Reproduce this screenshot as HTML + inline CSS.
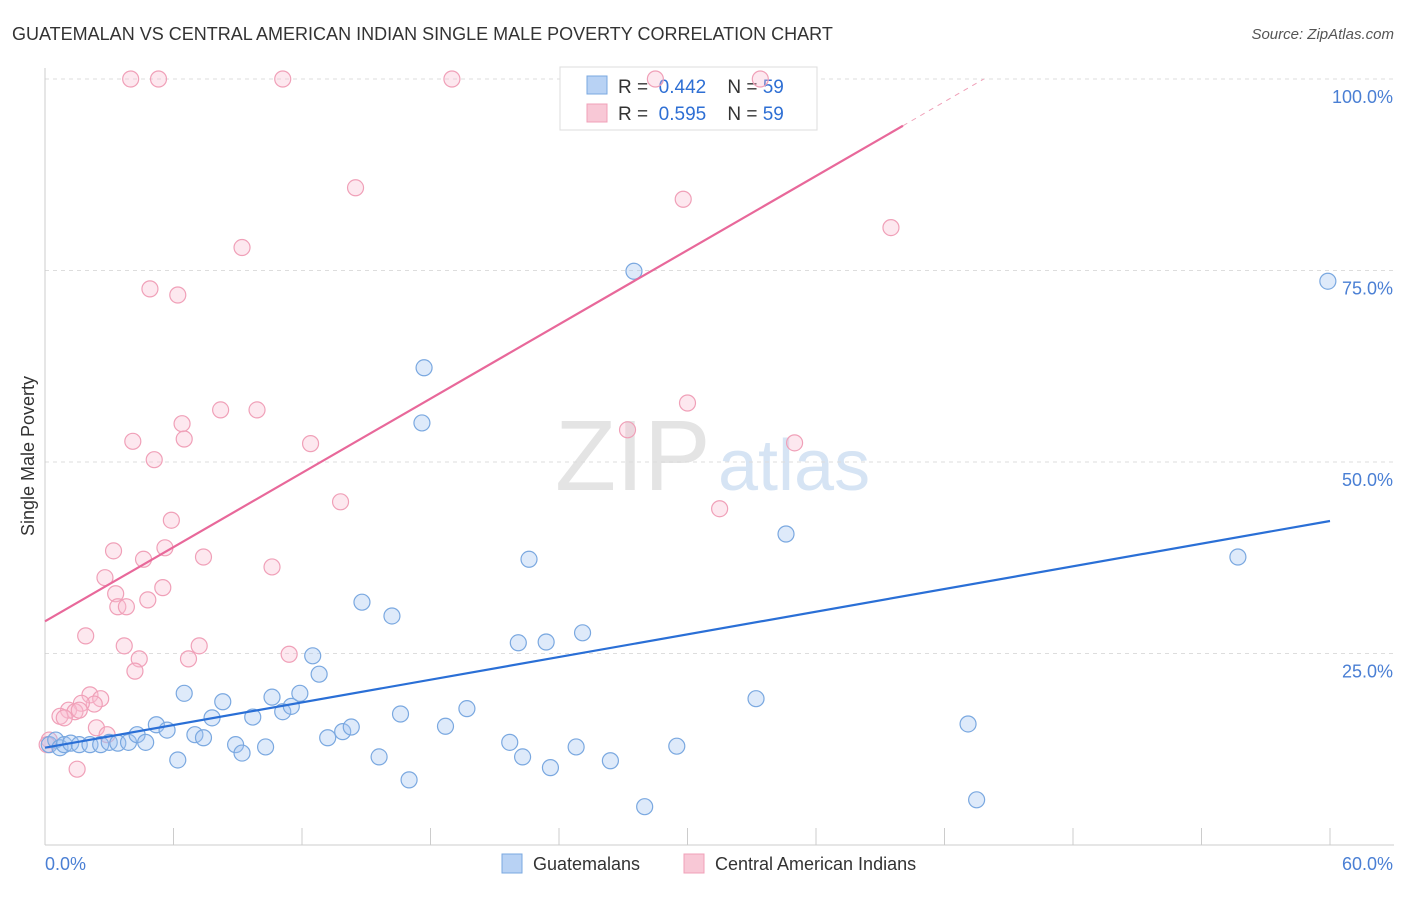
<!DOCTYPE html>
<html><head><meta charset="utf-8">
<style>
body{margin:0;background:#fff;font-family:"Liberation Sans",sans-serif;}
svg text{font-family:"Liberation Sans",sans-serif;}
</style></head>
<body>
<svg id="chart" width="1406" height="892" xmlns="http://www.w3.org/2000/svg">
<text x="12" y="40" font-size="18" fill="#333">GUATEMALAN VS CENTRAL AMERICAN INDIAN SINGLE MALE POVERTY CORRELATION CHART</text>
<text x="1394" y="39" font-size="15" fill="#555" text-anchor="end" font-style="italic">Source: ZipAtlas.com</text>
<text x="555" y="490" font-size="100" fill="#e4e4e4" font-family="Liberation Serif">ZIP</text>
<text x="718" y="490" font-size="72" fill="#d6e4f4">atlas</text>
<g id="grid"></g>
<g>
<rect x="560" y="67" width="257" height="63" fill="#fff" stroke="#ddd"/>
<rect x="587" y="76" width="20" height="18" fill="#b8d2f4" stroke="#7aa8e0"/>
<text x="618" y="93" font-size="19" fill="#333" xml:space="preserve">R =  <tspan fill="#2e6fd4">0.442</tspan>    N = <tspan fill="#2e6fd4">59</tspan></text>
<rect x="587" y="104" width="20" height="18" fill="#f8c8d6" stroke="#f0a0b8"/>
<text x="618" y="120" font-size="19" fill="#333" xml:space="preserve">R =  <tspan fill="#2e6fd4">0.595</tspan>    N = <tspan fill="#2e6fd4">59</tspan></text>
</g>
<g id="marks"></g>
<text transform="translate(34,456) rotate(-90)" font-size="18" fill="#333" text-anchor="middle">Single Male Poverty</text>
<text x="45" y="870" font-size="18" fill="#4a7fd4">0.0%</text>
<text x="1393" y="870" font-size="18" fill="#4a7fd4" text-anchor="end">60.0%</text>
<g>
<rect x="502" y="854" width="20" height="19" fill="#b8d2f4" stroke="#7aa8e0"/>
<text x="533" y="870" font-size="18" fill="#333">Guatemalans</text>
<rect x="684" y="854" width="20" height="19" fill="#f8c8d6" stroke="#f0a0b8"/>
<text x="715" y="870" font-size="18" fill="#333">Central American Indians</text>
</g>
</svg>
<script>
const yTicks=[25,50,75,100];
const yTickLabels=["25.0%","50.0%","75.0%","100.0%"];
const xTicks=[0,6,12,18,24,30,36,42,48,54,60];
const blueX=[0.2,0.5,0.7,0.9,1.2,1.6,2.1,2.6,3.0,3.4,3.9,4.3,4.7,5.2,5.7,6.2,6.5,7.0,7.4,7.8,8.3,8.9,9.2,9.7,10.3,10.6,11.1,11.5,11.9,12.5,12.8,13.2,13.9,14.3,14.8,15.6,16.2,16.6,17.0,17.7,17.6,18.7,19.7,21.7,22.1,22.3,22.6,23.4,23.6,24.8,25.1,26.4,28.0,27.5,29.5,33.2,34.6,43.1,43.5,55.7,59.9];
const blueY=[13.1,13.7,12.7,13.1,13.3,13.1,13.1,13.1,13.4,13.3,13.4,14.4,13.4,15.7,15.0,11.1,19.8,14.4,14.0,16.6,18.7,13.1,12.0,16.7,12.8,19.3,17.4,18.1,19.8,24.7,22.3,14.0,14.8,15.4,31.7,11.5,29.9,17.1,8.5,62.3,55.1,15.5,17.8,13.4,26.4,11.5,37.3,26.5,10.1,12.8,27.7,11.0,5.0,74.9,12.9,19.1,40.6,15.8,5.9,37.6,73.6];
const pinkX=[4.0,5.3,11.1,19.0,28.5,33.4,14.5,9.2,29.8,39.5,4.9,6.2,8.2,9.9,6.4,6.5,4.1,5.1,12.4,27.2,30.0,35.0,31.5,13.8,5.9,3.2,5.6,4.6,7.4,2.8,10.6,5.5,3.3,3.4,3.8,4.8,1.9,3.7,7.2,4.4,6.7,11.4,4.2,2.1,2.6,2.3,1.7,1.1,0.7,1.4,0.9,1.6,2.4,2.9,1.5,0.2,0.1];
const pinkY=[100,100,100,100,100,100,85.8,78.0,84.3,80.6,72.6,71.8,56.8,56.8,55.0,53.0,52.7,50.3,52.4,54.2,57.7,52.5,43.9,44.8,42.4,38.4,38.8,37.3,37.6,34.9,36.3,33.6,32.8,31.1,31.1,32.0,27.3,26.0,26.0,24.3,24.3,24.9,22.7,19.6,19.1,18.4,18.5,17.6,16.8,17.4,16.6,17.6,15.3,14.4,9.9,13.7,13.1];
const blueLine=[12.7,42.3]; // y at x=0 and x=60
const pinkLine=[29.2,1.615]; // intercept, slope
const NS="http://www.w3.org/2000/svg";
const X=v=>45+v/60*1285, Y=v=>845-v*7.66;
function mk(t,a,p){const e=document.createElementNS(NS,t);for(const k in a)e.setAttribute(k,a[k]);p.appendChild(e);return e;}
const grid=document.getElementById('grid'), marks=document.getElementById('marks');
yTicks.forEach((t,i)=>{
  const l=mk('line',{x1:45,x2:1394,y1:Y(t),y2:Y(t),stroke:'#ddd','stroke-dasharray':'4,4'},grid);
  
  
  const tx=mk('text',{x:1393,y:Y(t)+24,'font-size':18,fill:'#4a7fd4','text-anchor':'end'},grid);
  tx.textContent=yTickLabels[i];
  
  
});
mk('line',{x1:45,x2:1394,y1:845,y2:845,stroke:'#ccc'},grid);
mk('line',{x1:45,x2:45,y1:68,y2:845,stroke:'#ccc'},grid);
xTicks.forEach(t=>{
  const l=mk('line',{x1:X(t),x2:X(t),y1:828,y2:845,stroke:'#ccc'},grid);
  
  
});
function pts(xs,ys,fill,stroke,name){
  xs.forEach((x,i)=>{
    const c=mk('circle',{cx:X(x),cy:Y(ys[i]),r:8,fill:fill,stroke:stroke,'stroke-width':1.2},marks);
    
    
  });
}
pts(pinkX,pinkY,'rgba(248,190,210,0.35)','#f0a0b8','pink-point');
pts(blueX,blueY,'rgba(160,195,240,0.35)','#7aa8e0','blue-point');
const bl=mk('line',{x1:X(0),y1:Y(blueLine[0]),x2:X(60),y2:Y(blueLine[1]),stroke:'#2a6fd6','stroke-width':2.2},marks);


const pEnd=40.06, pMax=(100-pinkLine[0])/pinkLine[1];
const pl=mk('line',{x1:X(0),y1:Y(pinkLine[0]),x2:X(pEnd),y2:Y(pinkLine[0]+pinkLine[1]*pEnd),stroke:'#e8689a','stroke-width':2.2},marks);


const pd=mk('line',{x1:X(pEnd),y1:Y(pinkLine[0]+pinkLine[1]*pEnd),x2:X(pMax),y2:Y(100),stroke:'#f0a0b8','stroke-width':1,'stroke-dasharray':'5,5'},marks);


</script>
</body></html>
